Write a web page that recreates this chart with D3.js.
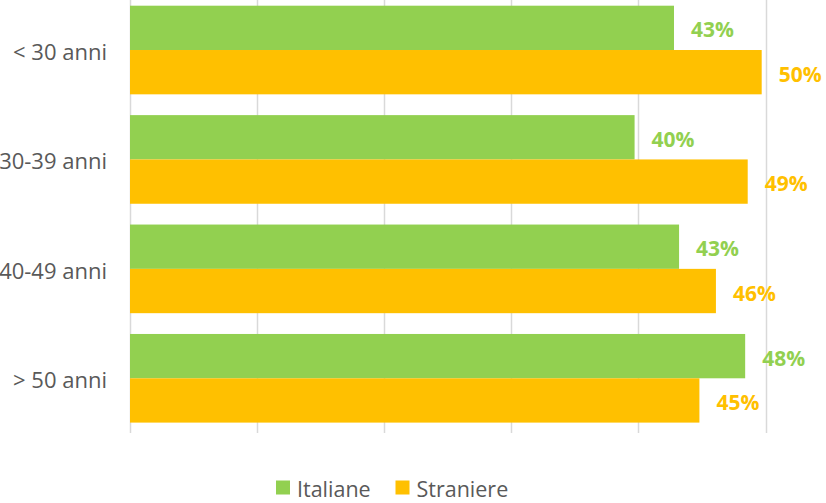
<!DOCTYPE html>
<html>
<head>
<meta charset="utf-8">
<script src="https://cdn.jsdelivr.net/npm/d3@7"></script>
<style>
  html, body { margin: 0; padding: 0; background: #fff; }
  svg { display: block; }
  text { font-family: "Open Sans", "Noto Sans", sans-serif; }
</style>
</head>
<body>
<svg id="chart" width="826" height="503"></svg>
<script>
const categories = ["< 30 anni", "30-39 anni", "40-49 anni", "> 50 anni"];
const seriesNames = ["Italiane", "Straniere"];
const italiane = [42.8, 39.7, 43.2, 48.4];
const straniere = [49.7, 48.6, 46.1, 44.8];
const xTicks = [0, 10, 20, 30, 40, 50];
const colors = ["#92D050", "#FFC000"];

const seriesValues = [italiane, straniere];
const svg = d3.select("#chart");

const x = d3.scaleLinear().domain([0, 50]).range([130, 765.5]);
const y = d3.scaleBand().domain(categories).range([-4.7, 433])
  .paddingInner(0.19).paddingOuter(0.095);
const ySub = d3.scaleBand().domain(seriesNames).range([0, y.bandwidth()]).padding(0);

// gridlines
svg.append("g").selectAll("line").data(xTicks).join("line")
  .attr("x1", d => Math.round(x(d)) + 0.5).attr("x2", d => Math.round(x(d)) + 0.5)
  .attr("y1", 0).attr("y2", 433)
  .attr("stroke", "#D9D9D9").attr("stroke-width", 1.5);

// bars
const groups = svg.append("g").selectAll("g").data(categories).join("g")
  .attr("transform", d => `translate(0,${y(d)})`);

groups.each(function(cat, ci) {
  const g = d3.select(this);
  seriesNames.forEach((s, si) => {
    const v = seriesValues[si][ci];
    g.append("rect")
      .attr("x", x(0)).attr("y", ySub(s))
      .attr("width", x(v) - x(0)).attr("height", ySub.bandwidth())
      .attr("fill", colors[si]);
    g.append("text")
      .attr("x", x(v) + 17).attr("y", ySub(s) + ySub.bandwidth() / 2 + 1.5)
      .attr("dominant-baseline", "central")
      .attr("font-size", 21).attr("font-weight", 700)
      .attr("fill", colors[si])
      .text(Math.round(v) + "%");
  });
});

// category labels
svg.append("g").selectAll("text").data(categories).join("text")
  .attr("x", 107).attr("y", d => y(d) + y.bandwidth() / 2 + 1)
  .attr("text-anchor", "end").attr("dominant-baseline", "central")
  .attr("font-size", 22).attr("fill", "#595959")
  .text(d => d);

// legend
const legendX = [276, 395.5];
const legend = svg.append("g").selectAll("g").data(seriesNames).join("g")
  .attr("transform", (d, i) => `translate(${legendX[i]},480.5)`);
legend.append("rect").attr("width", 14).attr("height", 14)
  .attr("fill", (d, i) => colors[i]);
legend.append("text").attr("x", 21).attr("y", 7.5)
  .attr("dominant-baseline", "central")
  .attr("font-size", 21.5).attr("fill", "#595959")
  .text(d => d);
</script>
</body>
</html>
